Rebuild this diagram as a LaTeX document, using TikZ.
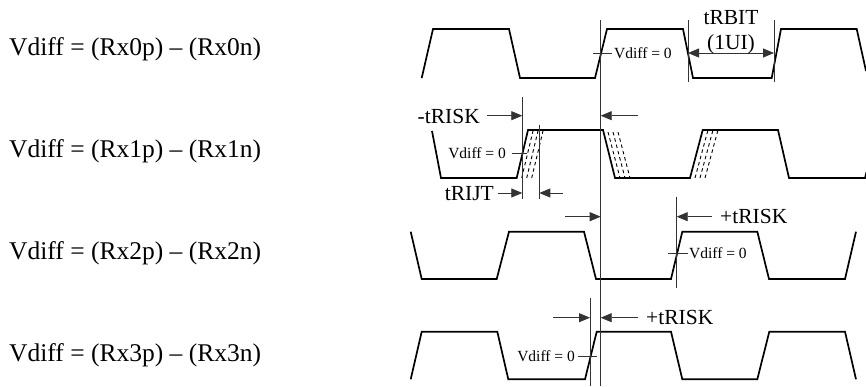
\documentclass[tikz,border=0pt]{standalone}
\usepackage{fontspec}
\setmainfont{Liberation Serif}
\usetikzlibrary{arrows.meta}
\tikzset{
  wave/.style={line width=1.7pt, line join=miter},
  jit/.style={line width=0.9pt, dash pattern=on 3.5pt off 3pt},
  thin/.style={line width=0.8pt, black!80},
  dim/.style={line width=0.8pt, black!80, -{Triangle[length=11pt,width=9pt]}},
  dimboth/.style={line width=0.8pt, black!80, {Triangle[length=11pt,width=9pt]}-{Triangle[length=11pt,width=9pt]}},
  biglbl/.style={inner sep=0pt, font=\fontsize{25.5}{30}\selectfont},
  lbl/.style={inner sep=0pt, font=\fontsize{21.5}{25}\selectfont},
  small/.style={inner sep=0pt, font=\fontsize{15.5}{18}\selectfont}
}
\begin{document}
\begin{tikzpicture}[x=1pt,y=-1pt]
\useasboundingbox (0,0) rectangle (866,387);

% left labels
\node[biglbl, anchor=west] (l0) at (9,49) {Vdiff = (Rx0p) – (Rx0n)};
\node[biglbl, anchor=west] (l1) at (9,151) {Vdiff = (Rx1p) – (Rx1n)};
\node[biglbl, anchor=west] (l2) at (9,253) {Vdiff = (Rx2p) – (Rx2n)};
\node[biglbl, anchor=west] (l3) at (9,355) {Vdiff = (Rx3p) – (Rx3n)};

% waveforms
\draw[wave] (421.7,78)--(433,29)--(509,29)--(520,78)--(595,78)--(607,29)--(683,29)--(693,78)--(771.7,78)--(781,29)--(856.7,29)--(866,71);
\draw[wave] (432,131)--(441,178)--(516.7,178)--(528,130)--(603,130)--(615,178)--(690,178)--(702.7,130)--(778,130)--(789,178)--(865,178)--(866.5,172);
\draw[wave] (410.7,231.7)--(421.7,279)--(496.7,279)--(509,231.7)--(584,231.7)--(596,279)--(671,279)--(682.3,231.7)--(757.3,231.7)--(769,279)--(845,279)--(856,231.7);
\draw[wave] (410.7,379.3)--(421.7,331.7)--(497.3,331.7)--(508.3,379.3)--(585,379.3)--(596.7,331.7)--(671,331.7)--(682.3,379.3)--(757.3,379.3)--(769.3,331.7)--(845,331.7)--(856,379.3);

% jitter copies (row 1)
\foreach \d in {5,10,15}{
  \draw[jit] (516.7+\d,178)--(528+\d,131);
  \draw[jit] (603+\d,132)--(615+\d,178);
  \draw[jit] (690+\d,178)--(702.7+\d,131);
}

% reference coordinates
\coordinate (mT) at (600.7,20);
\coordinate (mB) at (600.7,386);
\draw[thin] (mT)--(mB);

% row 0 : tRBIT
\coordinate (b1T) at (688,20); \coordinate (b1B) at (688,82);
\coordinate (b2T) at (774,20); \coordinate (b2B) at (774,82);
\draw[thin] (b1T)--(b1B);
\draw[thin] (b2T)--(b2B);
\coordinate (b1) at (688,53); \coordinate (b2) at (774,53);
\draw[dimboth] (b1)--(b2);
\node[lbl] (tr) at (731,18) {tRBIT};
\node[lbl] (ui) at (731,44) {(1UI)};
\coordinate (v0a) at (593,53); \coordinate (v0b) at (612,53);
\draw[thin] (v0a)--(v0b);
\node[small, anchor=west] (vd0) at (614,53) {Vdiff = 0};

% row 1 : -tRISK, tRIJT
\coordinate (k1T) at (522.3,97); \coordinate (k1B) at (522.3,199);
\coordinate (k2T) at (539.3,125); \coordinate (k2B) at (539.3,199);
\draw[thin] (k1T)--(k1B);
\draw[thin] (k2T)--(k2B);
\node[lbl, anchor=east] (nrisk) at (480,116) {-tRISK};
\coordinate (a1s) at (486.7,115.7); \coordinate (a1e) at (522.3,115.7);
\draw[dim] (a1s)--(a1e);
\coordinate (a2s) at (638,115.7); \coordinate (a2e) at (600.7,115.7);
\draw[dim] (a2s)--(a2e);
\node[lbl, anchor=east] (rijt) at (494,194) {tRIJT};
\coordinate (j1s) at (498,193); \coordinate (j1e) at (522.3,193);
\draw[dim] (j1s)--(j1e);
\coordinate (j2s) at (563,193); \coordinate (j2e) at (539.3,193);
\draw[dim] (j2s)--(j2e);
\node[small, anchor=east] (vd1) at (506,153) {Vdiff = 0};
\coordinate (v1a) at (511.7,153); \coordinate (v1b) at (527,153);
\draw[thin] (v1a)--(v1b);

% row 2 : +tRISK
\coordinate (p2T) at (676.7,197); \coordinate (p2B) at (676.7,288);
\draw[thin] (p2T)--(p2B);
\coordinate (c1s) at (565,216.7); \coordinate (c1e) at (600.7,216.7);
\draw[dim] (c1s)--(c1e);
\coordinate (c2s) at (711.7,216.7); \coordinate (c2e) at (676.7,216.7);
\draw[dim] (c2s)--(c2e);
\node[lbl, anchor=west] (prisk2) at (720,216) {+tRISK};
\coordinate (v2a) at (668,253.3); \coordinate (v2b) at (688,253.3);
\draw[thin] (v2a)--(v2b);
\node[small, anchor=west] (vd2) at (689,253.3) {Vdiff = 0};

% row 3 : +tRISK
\coordinate (p3T) at (590,298); \coordinate (p3B) at (590,386);
\draw[thin] (p3T)--(p3B);
\coordinate (e1s) at (553,317.7); \coordinate (e1e) at (590,317.7);
\draw[dim] (e1s)--(e1e);
\coordinate (e2s) at (638,317.7); \coordinate (e2e) at (600.7,317.7);
\draw[dim] (e2s)--(e2e);
\node[lbl, anchor=west] (prisk3) at (646,317) {+tRISK};
\node[small, anchor=east] (vd3) at (575,356) {Vdiff = 0};
\coordinate (v3a) at (578,356); \coordinate (v3b) at (597,356);
\draw[thin] (v3a)--(v3b);
\end{tikzpicture}
\end{document}
